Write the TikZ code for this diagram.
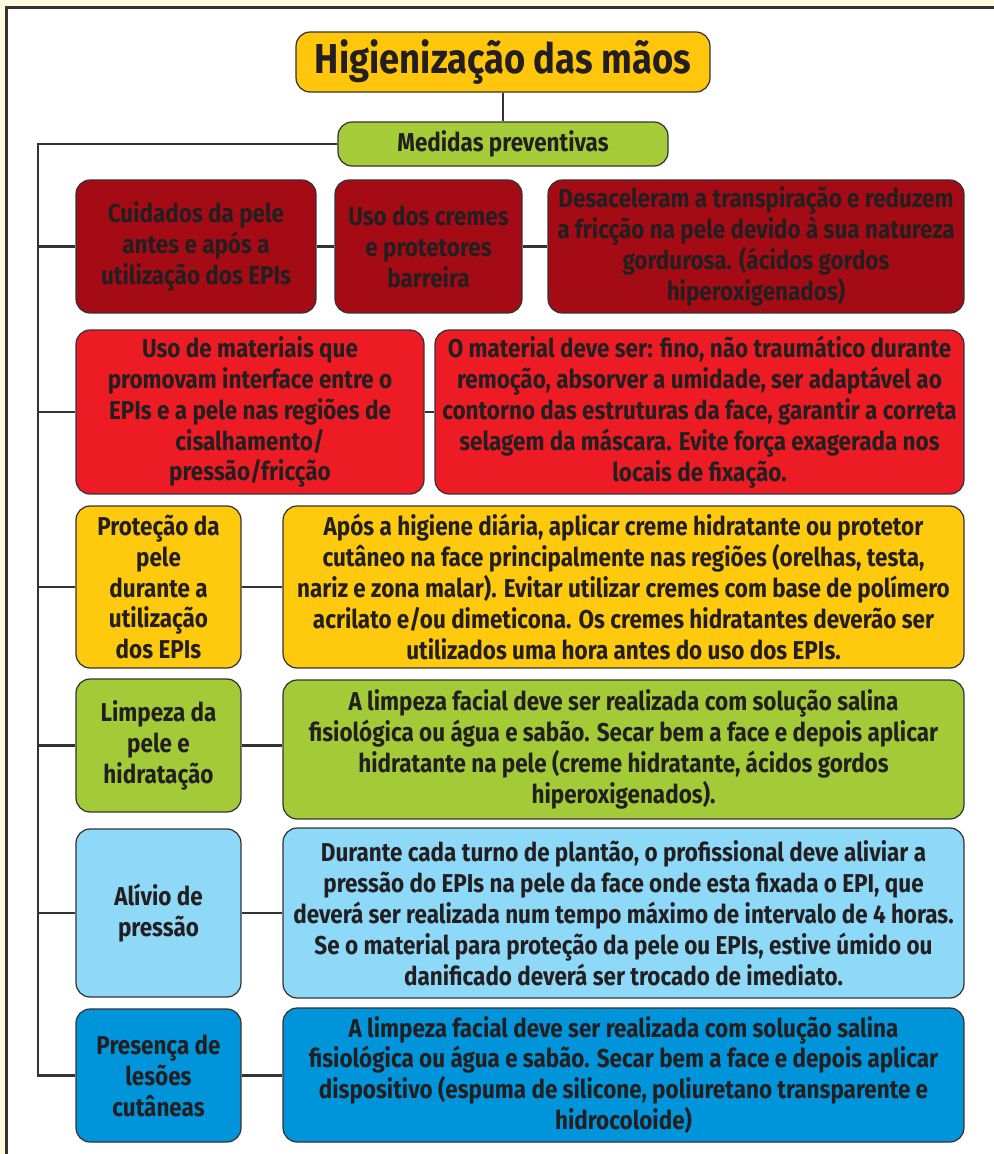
\documentclass[tikz,border=0pt]{standalone}
\usepackage{fontspec}
\setmainfont{Fira Sans}[FakeStretch=0.87]
\usepackage{tikz}

\definecolor{cream}{HTML}{FFFBE1}
\definecolor{framec}{HTML}{333333}
\definecolor{inkc}{HTML}{231F20}
\definecolor{titley}{HTML}{FFC60B}
\definecolor{medg}{HTML}{A5CD39}
\definecolor{darkred}{HTML}{A50B14}
\definecolor{brightred}{HTML}{ED1C24}
\definecolor{rowy}{HTML}{FFC90E}
\definecolor{rowg}{HTML}{A3CB38}
\definecolor{lightblue}{HTML}{8ED8F8}
\definecolor{deepblue}{HTML}{0095DA}

\begin{document}
\begin{tikzpicture}[x=0.02cm, y=-0.02cm,
  card/.style={draw=framec, line width=0.7pt, rounded corners=8pt, text=inkc, align=center,
    inner sep=0pt, font=\bfseries\fontsize{14.7}{17.6}\selectfont},
  link/.style={draw=framec, line width=1.4pt}]
  \fill[cream] (0,0) rectangle (994,1154);
  \useasboundingbox (0,0) rectangle (994,1154);
  \draw[framec, line width=1.6pt, fill=white] (6.5,7.5) rectangle (1020,1180);

  \node[card, fill=titley, minimum width=8.28cm, minimum height=1.2cm,
    font=\bfseries\fontsize{23.8}{28}\selectfont] (title) at (503,62) {Higienização das mãos};
  \node[card, fill=medg, minimum width=6.6cm, minimum height=0.88cm] (med) at (503,144) {Medidas preventivas};

  % linha 1
  \node[card, fill=darkred, minimum width=4.8cm, minimum height=2.66cm] (r1a) at (196,246.5)
    {Cuidados da pele\\antes e após a\\utilização dos EPIs};
  \node[card, fill=darkred, minimum width=3.74cm, minimum height=2.66cm] (r1b) at (428.5,246.5)
    {Uso dos cremes\\e protetores\\barreira};
  \node[card, fill=darkred, minimum width=8.32cm, minimum height=2.66cm] (r1c) at (756,246.5)
    {Desaceleram a transpiração e reduzem\\a fricção na pele devido à sua natureza\\gordurosa. (ácidos gordos\\hiperoxigenados)};

  % linha 2
  \node[card, fill=brightred, minimum width=6.96cm, minimum height=3.28cm] (r2a) at (250,412)
    {Uso de materiais que\\promovam interface entre o\\EPIs e a pele nas regiões de\\cisalhamento/\\pressão/fricção};
  \node[card, fill=brightred, minimum width=10.58cm, minimum height=3.28cm] (r2b) at (699.5,412)
    {O material deve ser: fino, não traumático durante\\remoção, absorver a umidade, ser adaptável ao\\contorno das estruturas da face, garantir a correta\\selagem da máscara. Evite força exagerada nos\\locais de fixação.};

  % linha 3
  \node[card, fill=rowy, minimum width=3.3cm, minimum height=3.24cm] (r3a) at (158.5,587)
    {Proteção da\\pele\\durante a\\utilização\\dos EPIs};
  \node[card, fill=rowy, minimum width=13.62cm, minimum height=3.24cm] (r3b) at (623.5,587)
    {Após a higiene diária, aplicar creme hidratante ou protetor\\cutâneo na face principalmente nas regiões (orelhas, testa,\\nariz e zona malar). Evitar utilizar cremes com base de polímero\\acrilato e/ou dimeticona. Os cremes hidratantes deverão ser\\utilizados uma hora antes do uso dos EPIs.};

  % linha 4
  \node[card, fill=rowg, minimum width=3.3cm, minimum height=2.66cm] (r4a) at (158.5,745.5)
    {Limpeza da\\pele e\\hidratação};
  \node[card, fill=rowg, minimum width=13.62cm, minimum height=2.78cm] (r4b) at (623.5,749.5)
    {A limpeza facial deve ser realizada com solução salina\\fisiológica ou água e sabão. Secar bem a face e depois aplicar\\hidratante na pele (creme hidratante, ácidos gordos\\hiperoxigenados).};

  % linha 5
  \node[card, fill=lightblue, minimum width=3.3cm, minimum height=3.36cm] (r5a) at (158.5,913)
    {Alívio de\\pressão};
  \node[card, fill=lightblue, minimum width=13.62cm, minimum height=3.4cm] (r5b) at (623.5,913)
    {Durante cada turno de plantão, o profissional deve aliviar a\\pressão do EPIs na pele da face onde esta fixada o EPI, que\\deverá ser realizada num tempo máximo de intervalo de 4 horas.\\Se o material para proteção da pele ou EPIs, estive úmido ou\\danificado deverá ser trocado de imediato.};

  % linha 6
  \node[card, fill=deepblue, minimum width=3.3cm, minimum height=2.66cm] (r6a) at (158.5,1075.5)
    {Presença de\\lesões\\cutâneas};
  \node[card, fill=deepblue, minimum width=13.62cm, minimum height=2.68cm] (r6b) at (623.5,1075)
    {A limpeza facial deve ser realizada com solução salina\\fisiológica ou água e sabão. Secar bem a face e depois aplicar\\dispositivo (espuma de silicone, poliuretano transparente e\\hidrocoloide)};

  % conexoes
  \coordinate (trunk) at (38,144);
  \draw[link] (title) -- (med);
  \draw[link] (med.west) -- (trunk) |- (r6a.west);
  \foreach \r in {r1a, r2a, r3a, r4a, r5a}
    \draw[link] (trunk |- \r.west) -- (\r.west);
  \draw[link] (r1a) -- (r1b);
  \draw[link] (r1b) -- (r1c);
  \draw[link] (r2a) -- (r2b);
  \draw[link] (r3a) -- (r3b);
  \draw[link] (r4a.east) -- (r4a.east -| r4b.west);
  \draw[link] (r5a) -- (r5b);
  \draw[link] (r6a.east) -- (r6a.east -| r6b.west);
\end{tikzpicture}
\end{document}
